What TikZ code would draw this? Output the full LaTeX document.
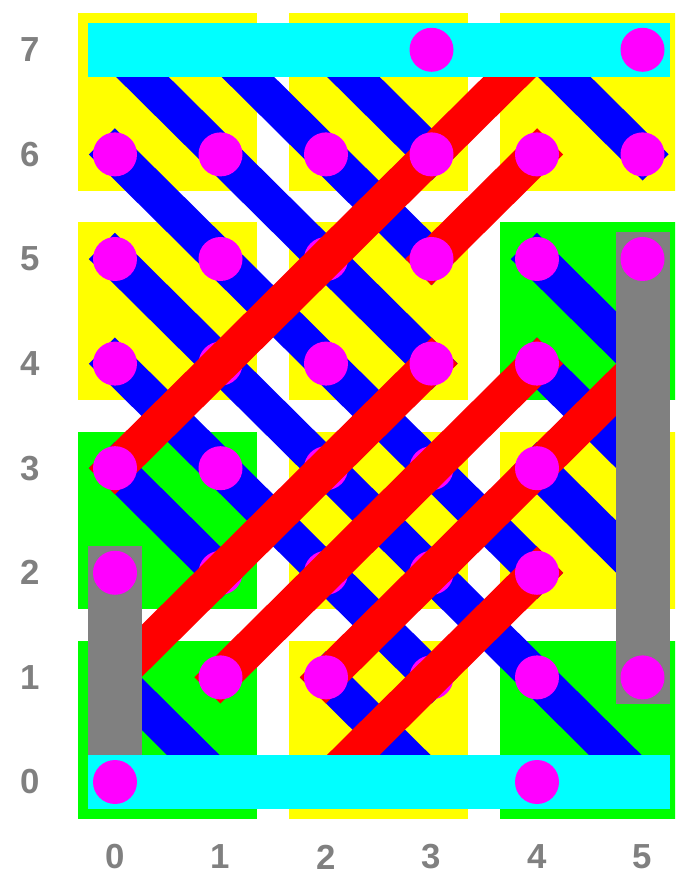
\documentclass[tikz,border=0pt]{standalone}
\usepackage{fontspec}
\setmainfont{Liberation Sans}
\definecolor{tileyellow}{HTML}{FFFF00}
\definecolor{tilegreen}{HTML}{00FF00}
\definecolor{wireblue}{HTML}{0000FF}
\definecolor{wirered}{HTML}{FF0000}
\definecolor{railcyan}{HTML}{00FFFF}
\definecolor{postgray}{HTML}{808080}
\definecolor{viamagenta}{HTML}{FF00FF}
\definecolor{labelgray}{HTML}{808080}

\begin{document}
\begin{tikzpicture}[
  x={(2.11cm,0cm)},
  y={(0cm,2.092cm)},
  bwire/.style={draw=wireblue,line width=7.4mm,line cap=rect},
  rwire/.style={draw=wirered,line width=7.4mm,line cap=rect},
  post/.style={draw=postgray,line width=10.8mm,line cap=rect},
  rail/.style={draw=railcyan,line width=10.8mm,line cap=rect},
  via/.style={fill=viamagenta},
  lbl/.style={text=labelgray,inner sep=0pt,font=\fontsize{19.8}{20}\selectfont\bfseries}
]
  \useasboundingbox (-2.30cm,-1.88cm) rectangle (11.20cm,15.64cm);
  \clip (-2.30cm,-1.88cm) rectangle (11.20cm,15.64cm);

  % Grid points p<col><row>.
  \foreach \c in {0,...,5} {
    \foreach \r in {0,...,7} {
      \coordinate (p\c\r) at (\c,\r);
    }
  }

  % Background tiles, one per 2x2 block of grid points.
  \foreach \i/\j/\col in {0/0/tilegreen,1/0/tileyellow,2/0/tilegreen,
                          0/1/tilegreen,1/1/tileyellow,2/1/tileyellow,
                          0/2/tileyellow,1/2/tileyellow,2/2/tilegreen,
                          0/3/tileyellow,1/3/tileyellow,2/3/tileyellow} {
    \fill[\col] ({2*\i-0.35},{2*\j-0.35}) rectangle ({2*\i+1.35},{2*\j+1.35});
  }

  % Blue wires run down to the right.
  \foreach \a/\b in {p07/p34,p43/p52,p17/p35,p44/p53,p27/p36,p45/p54,p47/p56,
                     p06/p42,p05/p50,p04/p31,p03/p12,p21/p30,p01/p10} {
    \draw[bwire] (\a) -- (\b);
  }

  % Dots that the red wires pass over.
  \foreach \p in {p14,p25,p12,p23,p22,p33,p32,p31} {
    \fill[via] (\p) circle[radius=4.4mm];
  }

  % Red wires run up to the right.
  \foreach \a/\b in {p03/p47,p35/p46,p01/p34,p11/p44,p21/p54,p20/p42} {
    \draw[rwire] (\a) -- (\b);
  }

  % Grey posts and cyan rails.
  \draw[post] (p02) -- (p00);
  \draw[post] (p55) -- (p51);
  \draw[rail] (p07) -- (p57);
  \draw[rail] (p00) -- (p50);

  \foreach \p in {p37,p57,p06,p16,p26,p36,p46,p56,p05,p15,p35,p45,p55,
                  p04,p24,p34,p44,p03,p13,p43,p02,p42,p11,p21,p41,p51,p00,p40} {
    \fill[via] (\p) circle[radius=4.4mm];
  }

  % Axis numbers.
  \foreach \r in {0,...,7} {
    \node[lbl] (row\r) at ([xshift=-1.70cm]p0\r) {\r};
  }
  \foreach \c in {0,...,5} {
    \node[lbl] (col\c) at ([yshift=-1.50cm]p\c0) {\c};
  }
\end{tikzpicture}
\end{document}
